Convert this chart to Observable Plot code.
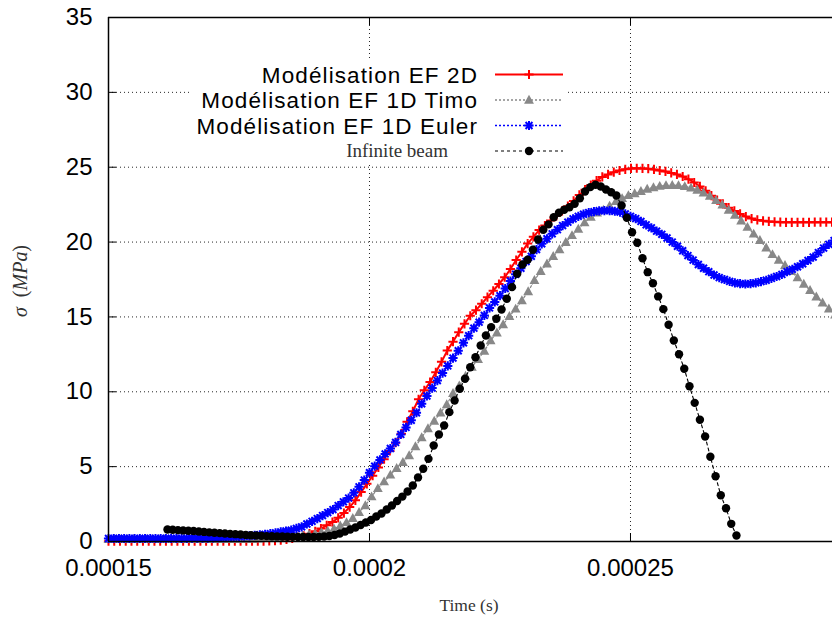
<!DOCTYPE html>
<html><head><meta charset="utf-8">
<script src="https://cdn.jsdelivr.net/npm/d3@7"></script>
<script src="https://cdn.jsdelivr.net/npm/@observablehq/plot@0.6"></script>
<style>
html,body{margin:0;padding:0;overflow:hidden;background:#fff;}
#chart{width:832px;height:618px;overflow:hidden;}
</style></head><body><div id="chart"></div>
<script>
// ---------- data ----------
const xDomain = [0.00015, 0.0002887];
const yDomain = [0, 35];
const xTicks = [0.00015, 0.0002, 0.00025];
const xTickLabels = ["0.00015", "0.0002", "0.00025"];
const yTicks = [0, 5, 10, 15, 20, 25, 30, 35];
const seriesNames = ["Modélisation EF 2D", "Modélisation EF 1D Timo", "Modélisation EF 1D Euler", "Infinite beam"];
const xLabel = "Time (s)";

// Modélisation EF 2D (time start, time step, stress MPa)
const red2D_t0 = 0.00015, red2D_dt = 1.1e-6;
const red2D = [
 0.02,0.02,0.02,0.02,0.02,0.02,0.02,0.02,0.02,0.02,
 0.02,0.02,0.02,0.02,0.02,0.02,0.02,0.02,0.02,0.02,
 0.02,0.02,0.02,0.02,0.02,0.02,0.03,
 0.03,0.04,0.06,0.09,0.14,0.20,0.28,0.38,0.52,0.68,
 0.86,1.08,1.30,1.58,1.90,2.30,2.75,3.30,3.85,4.40,
 4.95,5.50,6.05,6.60,7.20,8.00,8.70,9.50,10.10,10.65,
 11.30,12.00,12.75,13.35,13.98,14.54,15.08,15.45,15.88,16.32,
 16.75,17.20,17.65,18.20,18.80,19.35,19.90,20.35,20.80,21.10,
 21.44,21.75,22.08,22.40,22.75,23.15,23.50,23.80,24.10,24.35,
 24.52,24.67,24.78,24.86,24.92,24.93,24.92,24.90,24.85,24.78,
 24.72,24.62,24.52,24.38,24.20,23.98,23.72,23.42,23.10,22.80,
 22.55,22.30,22.08,21.88,21.70,21.57,21.48,21.42,21.38,21.35,
 21.33,21.32,21.32,21.32,21.32,21.32,21.33,21.33,21.33,21.33
];

// Modélisation EF 1D Timo
const timo_t0 = 0.00015, timo_dt = 1.2e-6;
const timo1D = [
 0.15,0.15,0.15,0.15,0.15,0.15,0.15,0.15,0.15,0.15,
 0.15,0.15,0.15,0.15,0.15,0.15,0.15,0.15,0.15,0.15,
 0.15,0.15,0.16,
 0.17,0.19,0.21,0.24,0.27,0.30,0.33,
 0.35,0.40,0.46,0.52,0.60,0.70,0.85,1.05,1.28,1.55,
 1.95,2.40,3.00,3.55,4.00,4.45,4.90,5.30,5.75,6.35,
 6.95,7.55,8.05,8.60,9.15,9.90,10.40,11.05,11.65,12.18,
 12.72,13.43,13.95,14.50,15.05,15.54,16.10,16.70,17.45,18.05,
 18.55,19.05,19.50,19.99,20.45,20.88,21.30,21.68,21.95,22.15,
 22.42,22.72,22.92,23.12,23.25,23.40,23.54,23.65,23.74,23.79,
 23.80,23.79,23.72,23.62,23.48,23.30,23.08,22.80,22.50,22.15,
 21.80,21.42,21.00,20.55,20.12,19.62,19.18,18.80,18.45,18.05,
 17.63,17.20,16.78,16.35,15.95,15.55,15.15
];

// Modélisation EF 1D Euler
const euler_t0 = 0.00015, euler_dt = 1.0e-6;
const euler1D = [
 0.20,0.20,0.20,0.20,0.20,0.20,0.20,0.20,0.20,0.20,
 0.20,0.20,0.21,0.21,0.21,0.21,0.22,0.22,0.22,0.23,
 0.24,0.25,0.26,0.28,0.30,0.32,0.35,0.37,0.41,0.45,
 0.48,0.52,0.58,0.64,0.70,0.76,0.87,0.98,1.17,1.35,
 1.53,1.73,1.93,2.13,2.40,2.65,2.90,3.25,3.65,4.10,
 4.60,5.03,5.45,5.85,6.21,6.62,7.15,7.62,8.10,8.60,
 9.20,9.72,10.25,10.75,11.25,11.73,12.25,12.74,13.27,13.75,
 14.25,14.65,15.10,15.60,16.00,16.42,16.90,17.40,17.85,18.25,
 18.70,19.05,19.50,19.88,20.22,20.55,20.83,21.10,21.33,21.55,
 21.72,21.86,21.97,22.03,22.09,22.10,22.10,22.06,22.00,21.88,
 21.72,21.57,21.38,21.15,20.95,20.73,20.52,20.27,20.00,19.72,
 19.42,19.10,18.80,18.50,18.25,18.02,17.80,17.63,17.50,17.37,
 17.28,17.23,17.20,17.22,17.28,17.36,17.45,17.57,17.70,17.84,
 18.02,18.18,18.35,18.55,18.77,19.00,19.30,19.60,19.85,20.10
];

// Infinite beam
const beam_t0 = 0.0001613, beam_dt = 1.0e-6;
const infiniteBeam = [
 0.80,0.78,0.76,0.74,0.72,0.70,0.67,0.64,0.61,0.58,
 0.56,0.53,0.51,0.49,0.47,0.44,0.42,0.40,0.38,0.36,
 0.35,0.34,0.33,0.32,0.31,0.30,0.30,0.30,0.30,0.31,
 0.33,0.37,0.43,0.53,0.66,0.80,0.94,1.10,1.27,1.44,
 1.67,1.87,2.14,2.40,2.71,3.00,3.34,3.74,4.28,4.86,
 5.52,6.41,7.15,7.75,8.64,9.42,10.20,10.87,11.64,12.31,
 13.09,13.76,14.32,14.88,15.50,16.21,16.99,17.88,18.50,18.82,
 19.49,20.17,20.82,21.18,21.66,21.96,22.16,22.33,22.56,22.93,
 23.38,23.67,23.83,23.71,23.51,23.33,23.11,
 22.44,21.62,20.66,19.95,18.92,17.99,17.25,16.37,15.52,14.48,
 13.43,12.51,11.54,10.37,9.26,8.13,7.01,5.66,4.36,3.09,
 2.22,1.18,0.40
];

// ---------- tables ----------
const toRows = (vals, t0, dt) => vals.map((v, i) => ({t: t0 + i * dt, v}));
const redRows = toRows(red2D, red2D_t0, red2D_dt);
const timoRows = toRows(timo1D, timo_t0, timo_dt);
const eulerRows = toRows(euler1D, euler_t0, euler_dt);
const beamRows = toRows(infiniteBeam, beam_t0, beam_dt);

// ---------- symbols ----------
const plusSym = {draw(c, s){const h = Math.sqrt(s/Math.PI); c.moveTo(-h,0); c.lineTo(h,0); c.moveTo(0,-h); c.lineTo(0,h);}};
const starSym = {draw(c, s){const h = Math.sqrt(s/Math.PI), d = h*0.75; c.moveTo(-h,0); c.lineTo(h,0); c.moveTo(0,-h); c.lineTo(0,h); c.moveTo(-d,-d); c.lineTo(d,d); c.moveTo(-d,d); c.lineTo(d,-d);}};
const triSym = {draw(c, s){const h = Math.sqrt(s/Math.PI); c.moveTo(0,-h); c.lineTo(h*0.95,h*0.72); c.lineTo(-h*0.95,h*0.72); c.closePath();}};

const styles = [
  {stroke: "#ff0000", dash: null, width: 2, sym: plusSym, r: 4.6, fill: "none", mstroke: "#ff0000", mw: 2},
  {stroke: "#888888", dash: "2,2", width: 1.3, sym: triSym, r: 5.2, fill: "#888888", mstroke: "none", mw: 0},
  {stroke: "#0000ff", dash: "2,2", width: 1.5, sym: starSym, r: 4.6, fill: "none", mstroke: "#0000ff", mw: 2},
  {stroke: "#000000", dash: "3,3", width: 1.1, sym: "circle", r: 4.2, fill: "#000000", mstroke: "none", mw: 0}
];
const rowsList = [redRows, timoRows, eulerRows, beamRows];

const seriesMarks = [];
rowsList.forEach((rows, k) => {
  const s = styles[k];
  seriesMarks.push(Plot.line(rows, {x: "t", y: "v", stroke: s.stroke, strokeWidth: s.width, strokeDasharray: s.dash}));
  seriesMarks.push(Plot.dot(rows, {x: "t", y: "v", symbol: s.sym, r: s.r, fill: s.fill, stroke: s.mstroke, strokeWidth: s.mw}));
});

const plot = Plot.plot({
  width: 832, height: 618,
  marginLeft: 108, marginRight: 0, marginTop: 17, marginBottom: 77,
  style: {fontFamily: "'Liberation Sans', Arial, sans-serif", fontSize: "24px", color: "#000", background: "#fff"},
  x: {domain: xDomain},
  y: {domain: yDomain},
  marks: [
    Plot.gridX(xTicks.slice(1), {stroke: "#000", strokeOpacity: 0.85, strokeDasharray: "1,3", strokeWidth: 1}),
    Plot.gridY(yTicks.slice(1, -1), {stroke: "#000", strokeOpacity: 0.85, strokeDasharray: "1,3", strokeWidth: 1}),
    Plot.axisX(xTicks, {tickSize: 0, tickPadding: 17, fontSize: 24, label: null, tickFormat: d => xTickLabels[xTicks.indexOf(d)]}),
    Plot.axisY(yTicks, {tickSize: 0, tickPadding: 16, fontSize: 24, label: null}),
    Plot.tickY(yTicks, {y: d => d, insetRight: 716, stroke: "#000", strokeWidth: 1}),
    Plot.tickX(xTicks, {x: d => d, insetTop: 516, stroke: "#000", strokeWidth: 1}),
    Plot.tickX(xTicks, {x: d => d, insetBottom: 516, stroke: "#000", strokeWidth: 1}),
    ...seriesMarks,
    Plot.ruleX([xDomain[0]], {stroke: "#000", strokeWidth: 1.5}),
    Plot.ruleY(yDomain, {stroke: "#000", strokeWidth: 1.5})
  ]
});
document.getElementById("chart").appendChild(plot);

// ---------- legend & axis titles ----------
const svg = d3.select(plot);
svg.append("rect").attr("x", 190).attr("y", 61).attr("width", 378).attr("height", 101).attr("fill", "#fff");
const rowY = [74.5, 100, 125.5, 151];
seriesNames.forEach((name, k) => {
  const s = styles[k], y = rowY[k];
  const serif = k === 3;
  svg.append("text")
    .attr("x", serif ? 448 : 478).attr("y", y + (serif ? 6 : 8))
    .attr("text-anchor", "end")
    .attr("font-family", serif ? "'Liberation Serif', 'DejaVu Serif', serif" : "'Liberation Sans', Arial, sans-serif")
    .attr("font-size", serif ? 19 : 22.5)
    .attr("letter-spacing", serif ? null : "1.1px")
    .attr("fill", serif ? "#333" : "#000")
    .text(name);
  svg.append("line").attr("x1", 495).attr("x2", 563).attr("y1", y).attr("y2", y)
    .attr("stroke", s.stroke).attr("stroke-width", s.width).attr("stroke-dasharray", s.dash);
  const symType = s.sym === "circle" ? d3.symbolCircle : s.sym;
  svg.append("path").attr("transform", `translate(529,${y})`)
    .attr("d", d3.symbol().type(symType).size(Math.PI * s.r * s.r)())
    .attr("fill", s.fill).attr("stroke", s.mstroke).attr("stroke-width", s.mw);
});
svg.append("text").attr("x", 469).attr("y", 611).attr("text-anchor", "middle")
  .attr("font-family", "'Liberation Serif', 'DejaVu Serif', serif").attr("font-size", 17.5).attr("fill", "#333")
  .text(xLabel);
const yl = svg.append("text").attr("transform", "translate(27,281) rotate(-90)").attr("text-anchor", "middle")
  .attr("xml:space", "preserve")
  .attr("font-family", "'Liberation Serif', 'DejaVu Serif', serif").attr("font-size", 20).attr("fill", "#333");
yl.append("tspan").attr("font-style", "italic").text("σ");
yl.append("tspan").text("\u00a0\u00a0(");
yl.append("tspan").attr("font-style", "italic").text("MPa");
yl.append("tspan").text(")");
</script></body></html>
